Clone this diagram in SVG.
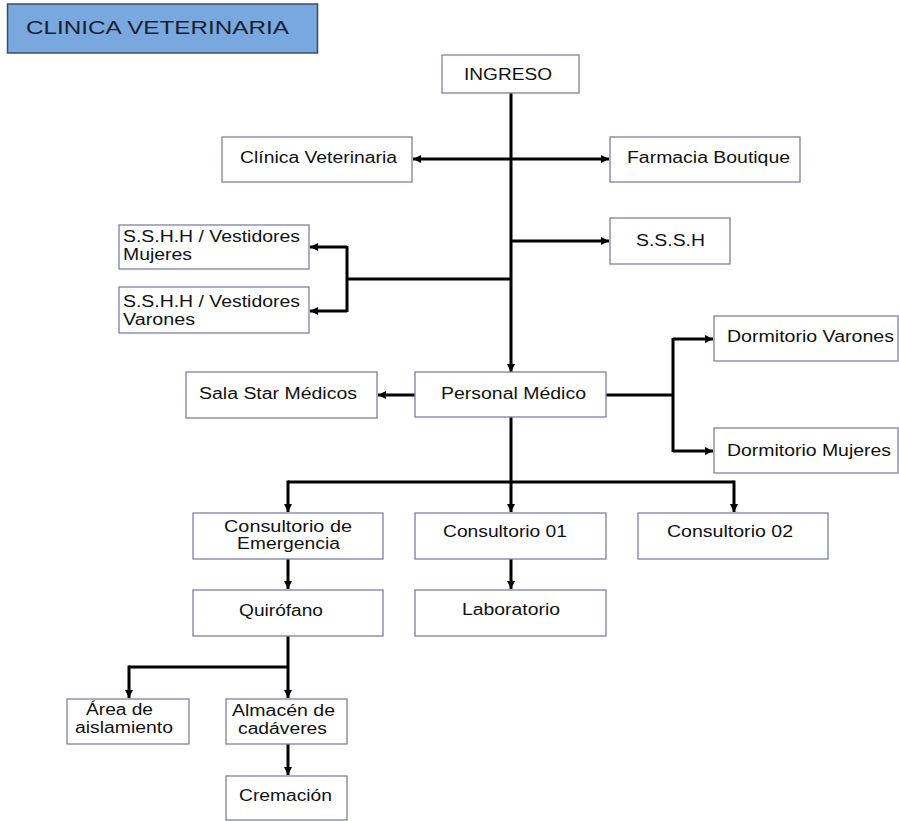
<svg xmlns="http://www.w3.org/2000/svg" width="899" height="821" viewBox="0 0 899 821">
<style>
.box{fill:#ffffff;stroke:#7f7fa6;stroke-width:1.3}
.title{fill:#78a8de;stroke:#3c4c66;stroke-width:1.5}
.t{font-family:"Liberation Sans",Arial,sans-serif;font-size:16px;fill:#111111}
.tt{font-family:"Liberation Sans",Arial,sans-serif;font-size:19px;fill:#1a1f2e}
.c{fill:none;stroke:#000000;stroke-width:3}
.a{marker-end:url(#ah)}
</style>
<defs>
<marker id="ah" markerUnits="userSpaceOnUse" markerWidth="10" markerHeight="10" refX="8" refY="4" orient="auto">
<path d="M0,0 L8,4 L0,8 z" fill="#000000"/>
</marker>
</defs>
<rect width="899" height="821" fill="#ffffff"/>

<g id="connectors">
<path class="c a" d="M511,93 V372"/>
<path class="c a" d="M511,159 H413"/>
<path class="c a" d="M511,159 H609"/>
<path class="c a" d="M511,241 H609"/>
<path class="c" d="M511,279 H347 M347,246 V312"/>
<path class="c a" d="M347,247 H310"/>
<path class="c a" d="M347,311 H310"/>
<path class="c a" d="M415,395 H378"/>
<path class="c" d="M606,395 H673 M673,338 V452"/>
<path class="c a" d="M673,339 H713"/>
<path class="c a" d="M673,451 H713"/>
<path class="c a" d="M511,417 V512"/>
<path class="c" d="M288,482 H734"/>
<path class="c a" d="M288,480.5 V512"/>
<path class="c a" d="M734,480.5 V512"/>
<path class="c a" d="M288,559 V589"/>
<path class="c a" d="M511,559 V589"/>
<path class="c a" d="M288,636 V698"/>
<path class="c" d="M288,667 H129"/>
<path class="c a" d="M129,665.5 V698"/>
<path class="c a" d="M288,744 V775"/>
</g>

<g id="title">
<rect class="title" x="7.5" y="4" width="310" height="49"/>
<text class="tt" x="26" y="34" textLength="263" lengthAdjust="spacingAndGlyphs">CLINICA VETERINARIA</text>
</g>

<g id="ingreso">
<rect class="box" x="442" y="55" width="137" height="38"/>
<text class="t" x="464" y="80" textLength="88" lengthAdjust="spacingAndGlyphs">INGRESO</text>
</g>

<g id="clinica-veterinaria">
<rect class="box" x="222" y="137" width="190" height="45"/>
<text class="t" x="240" y="163" textLength="157" lengthAdjust="spacingAndGlyphs">Clínica Veterinaria</text>
</g>

<g id="farmacia-boutique">
<rect class="box" x="610" y="137" width="190" height="45"/>
<text class="t" x="627" y="163" textLength="163" lengthAdjust="spacingAndGlyphs">Farmacia Boutique</text>
</g>

<g id="sssh">
<rect class="box" x="610" y="218" width="120" height="46"/>
<text class="t" x="636" y="246" textLength="69" lengthAdjust="spacingAndGlyphs">S.S.S.H</text>
</g>

<g id="sshh-mujeres">
<rect class="box" x="119" y="225" width="190" height="44"/>
<text class="t" x="123" y="242" textLength="177" lengthAdjust="spacingAndGlyphs">S.S.H.H / Vestidores</text>
<text class="t" x="123" y="260" textLength="69" lengthAdjust="spacingAndGlyphs">Mujeres</text>
</g>

<g id="sshh-varones">
<rect class="box" x="119" y="287" width="190" height="46"/>
<text class="t" x="123" y="307" textLength="177" lengthAdjust="spacingAndGlyphs">S.S.H.H / Vestidores</text>
<text class="t" x="123" y="325" textLength="72" lengthAdjust="spacingAndGlyphs">Varones</text>
</g>

<g id="sala-star">
<rect class="box" x="186" y="372" width="191" height="46"/>
<text class="t" x="199" y="399" textLength="158" lengthAdjust="spacingAndGlyphs">Sala Star Médicos</text>
</g>

<g id="personal-medico">
<rect class="box" x="415" y="372" width="191" height="45"/>
<text class="t" x="441" y="399" textLength="145" lengthAdjust="spacingAndGlyphs">Personal Médico</text>
</g>

<g id="dormitorio-varones">
<rect class="box" x="714" y="316" width="184" height="45"/>
<text class="t" x="727" y="342" textLength="167" lengthAdjust="spacingAndGlyphs">Dormitorio Varones</text>
</g>

<g id="dormitorio-mujeres">
<rect class="box" x="714" y="428" width="184" height="45"/>
<text class="t" x="727" y="456" textLength="164" lengthAdjust="spacingAndGlyphs">Dormitorio Mujeres</text>
</g>

<g id="consultorio-emergencia">
<rect class="box" x="193" y="513" width="190" height="46"/>
<text class="t" x="224" y="532" textLength="128" lengthAdjust="spacingAndGlyphs">Consultorio de</text>
<text class="t" x="237" y="549" textLength="103" lengthAdjust="spacingAndGlyphs">Emergencia</text>
</g>

<g id="consultorio-01">
<rect class="box" x="415" y="513" width="191" height="46"/>
<text class="t" x="443" y="537" textLength="124" lengthAdjust="spacingAndGlyphs">Consultorio 01</text>
</g>

<g id="consultorio-02">
<rect class="box" x="638" y="513" width="190" height="46"/>
<text class="t" x="667" y="537" textLength="126" lengthAdjust="spacingAndGlyphs">Consultorio 02</text>
</g>

<g id="quirofano">
<rect class="box" x="193" y="590" width="190" height="46"/>
<text class="t" x="239" y="616" textLength="84" lengthAdjust="spacingAndGlyphs">Quirófano</text>
</g>

<g id="laboratorio">
<rect class="box" x="415" y="590" width="191" height="46"/>
<text class="t" x="462" y="615" textLength="98" lengthAdjust="spacingAndGlyphs">Laboratorio</text>
</g>

<g id="area-aislamiento">
<rect class="box" x="67" y="699" width="122" height="45"/>
<text class="t" x="86" y="715" textLength="67" lengthAdjust="spacingAndGlyphs">Área de</text>
<text class="t" x="75" y="733" textLength="98" lengthAdjust="spacingAndGlyphs">aislamiento</text>
</g>

<g id="almacen-cadaveres">
<rect class="box" x="226" y="699" width="121" height="45"/>
<text class="t" x="232" y="716" textLength="103" lengthAdjust="spacingAndGlyphs">Almacén de</text>
<text class="t" x="238" y="734" textLength="89" lengthAdjust="spacingAndGlyphs">cadáveres</text>
</g>

<g id="cremacion">
<rect class="box" x="226" y="776" width="121" height="44"/>
<text class="t" x="239" y="801" textLength="93" lengthAdjust="spacingAndGlyphs">Cremación</text>
</g>
</svg>
